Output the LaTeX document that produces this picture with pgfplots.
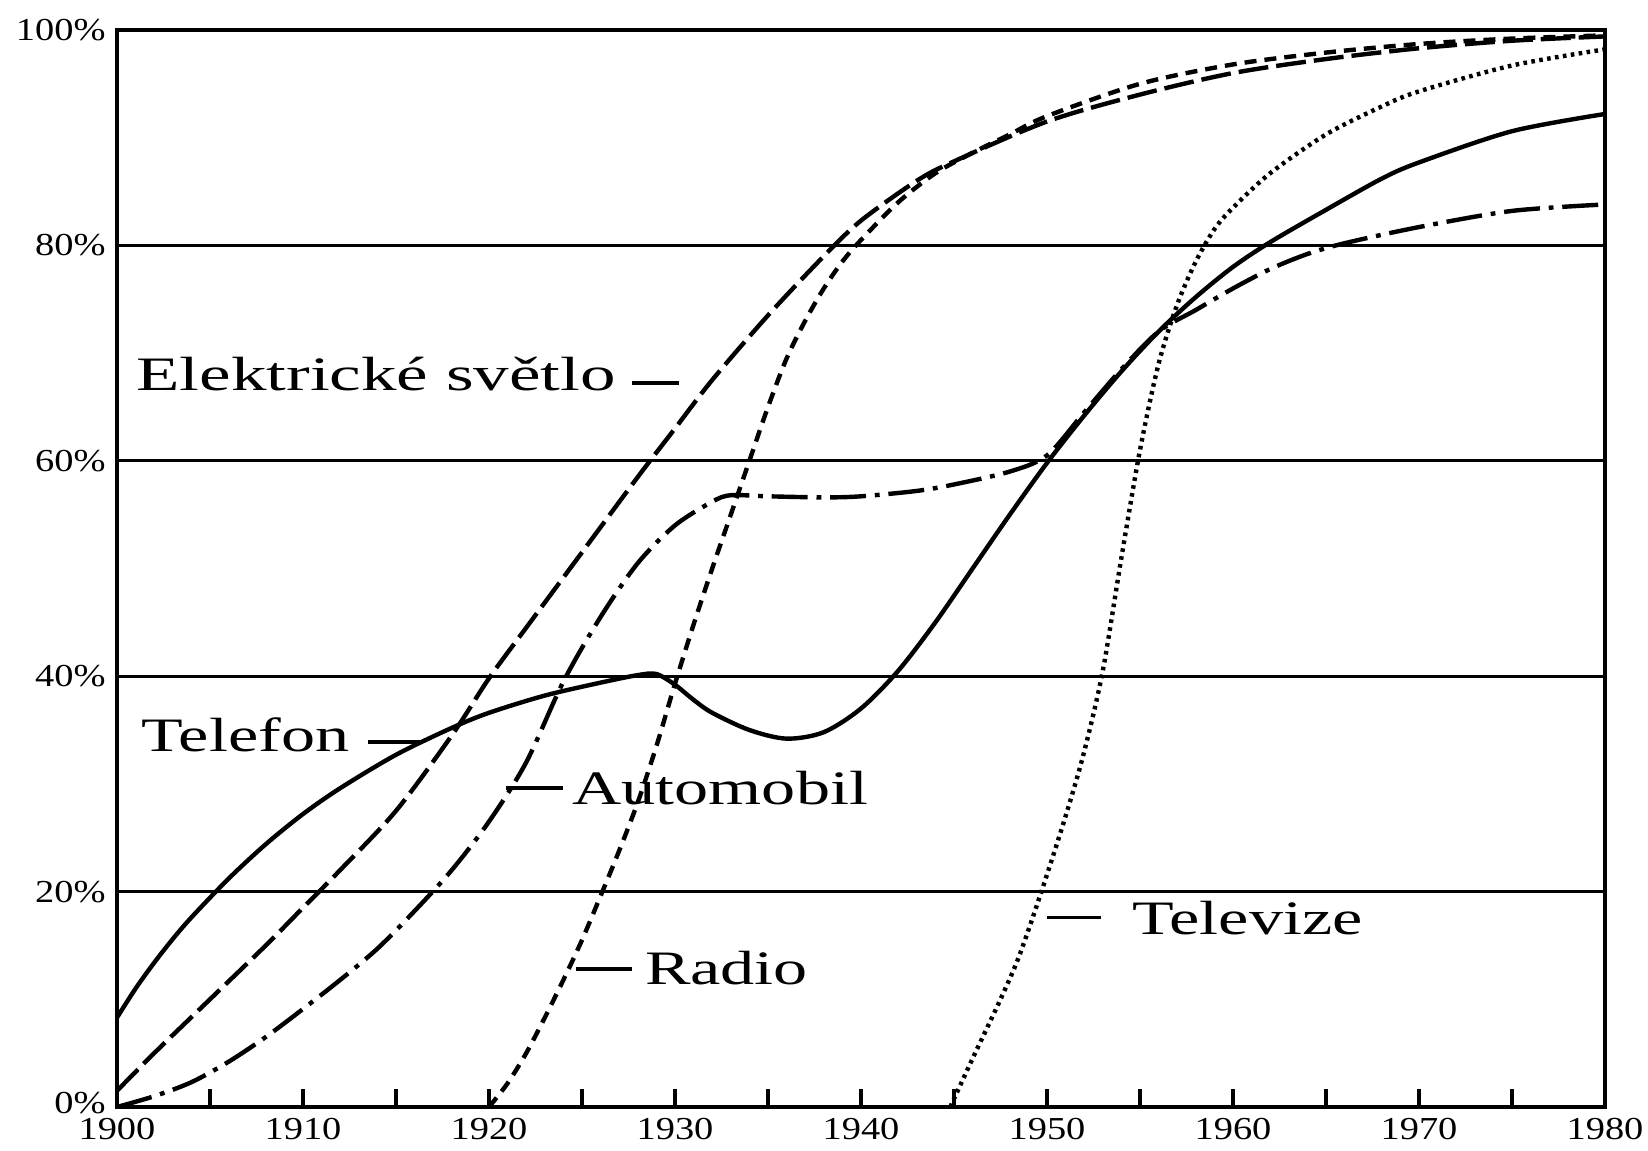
\documentclass[border=0pt]{standalone}
\usepackage{pgfplots}
\pgfplotsset{compat=1.18}
\usepackage{fontspec}
\setmainfont{Liberation Serif}
\newfontfamily\annfont[FakeStretch=1.42]{Liberation Serif}
\newfontfamily\annwide[FakeStretch=1.48]{Liberation Serif}
\newfontfamily\tickfont[FakeStretch=1.2]{Liberation Serif}

\begin{document}
\begin{tikzpicture}
\path[use as bounding box] (-29.25pt,-11pt) rectangle (382.75pt,276.75pt);
\begin{axis}[
  at={(0,0)}, anchor=south west,
  scale only axis, width=372pt, height=269.25pt,
  xmin=1900, xmax=1980, ymin=0, ymax=100,
  xtick={1900,1910,...,1980},
  minor x tick num=1,
  ytick={0,20,40,60,80,100},
  yticklabels={\raisebox{2pt}{0\%},20\%,40\%,60\%,80\%,100\%},
  xtick pos=left, ytick pos=left,
  tick align=inside,
  major tick length=4.5pt, minor tick length=4.5pt,
  ytick style={draw=none},
  xtick style={black, line width=0.8pt},
  ymajorgrids, grid style={black, line width=0.8pt},
  axis line style={line width=1.2pt},
  /pgf/number format/1000 sep={},
  /pgf/number format/assume math mode=true,
  ticklabel style={font=\tickfont\fontsize{8}{9}\selectfont, inner sep=1pt},
  yticklabel style={xshift=-1.67pt},
  xticklabel style={yshift=-1.67pt},
]
% Telefon (solid)
\addplot[black, line width=1.1pt, smooth, tension=0.5] coordinates {
(1900,8.3) (1901,11) (1902,13.4) (1903,15.6) (1904,17.6) (1906,21.2) (1908,24.4)
(1910,27.2) (1912,29.6) (1915,32.7) (1918,35.2) (1920,36.6) (1923,38.2) (1926,39.4)
(1928,40.1) (1929,40.2) (1930,39.2) (1931,37.8) (1932,36.6) (1934,35) (1936,34.2)
(1938,34.8) (1940,37) (1942,40.5) (1944,45) (1946,50) (1948,55) (1950,59.8)
(1952,64.2) (1954,68.3) (1956,72) (1958,75.2) (1960,78) (1962,80.3) (1965,83.3)
(1968,86.2) (1970,87.7) (1975,90.6) (1980,92.2)};
% Elektricke svetlo (long dashes)
\addplot[black, line width=1.1pt, smooth, tension=0.5, dash pattern=on 7.5pt off 2pt] coordinates {
(1900,1.5) (1902,5) (1905,10) (1908,15) (1910,18.5) (1912,22) (1915,27.5)
(1918,34.5) (1920,39.8) (1922,44.5) (1925,51.5) (1928,58.5) (1930,63) (1932,67.5)
(1935,73.5) (1938,79) (1940,82.3) (1943,86) (1945,87.8) (1950,91.5) (1955,94)
(1960,96) (1965,97.3) (1970,98.3) (1975,99) (1980,99.4)};
% Automobil (dash-dot)
\addplot[black, line width=1.1pt, smooth, tension=0.5, dash pattern=on 9pt off 2.2pt on 1.2pt off 2.2pt] coordinates {
(1900,0) (1902,1) (1904,2.3) (1906,4.2) (1908,6.5) (1910,9.1) (1912,11.8)
(1914,14.7) (1916,18.2) (1918,22) (1920,26.5) (1922,32) (1924,39.5) (1926,45.5)
(1928,50.5) (1930,54) (1932,56.2) (1933,56.8) (1935,56.7) (1938,56.6) (1940,56.7)
(1943,57.2) (1945,57.8) (1948,59) (1950,60.5) (1952,64.5) (1954,68.5) (1956,72)
(1958,74) (1960,76) (1962,77.8) (1964,79.2) (1966,80.2) (1970,81.7) (1975,83.2) (1980,83.8)};
% Radio (short dashes)
\addplot[black, line width=1.1pt, smooth, tension=0.5, dash pattern=on 3pt off 2pt] coordinates {
(1920,0) (1921,2.2) (1922,5) (1923,8.3) (1924,11.8) (1925,15.5) (1926,19.6)
(1927,23.8) (1928,28.3) (1929,33.5) (1930,39.3) (1931,44.8) (1932,50) (1933,55)
(1934,60) (1935,65) (1936,69.5) (1937,73) (1938,76) (1939,78.5) (1940,80.5)
(1942,84) (1944,86.7) (1946,88.6) (1948,90.3) (1950,92) (1955,95) (1960,96.8)
(1965,97.9) (1970,98.7) (1975,99.2) (1980,99.5)};
% Televize (dotted)
\addplot[black, line width=1.1pt, smooth, tension=0.5, dash pattern=on 0.9pt off 1.1pt] coordinates {
(1944.8,0) (1946,4.5) (1947.5,10) (1948.5,14) (1949.7,20) (1951,27) (1952,33)
(1953,40.5) (1954,51) (1955,61) (1956,69) (1957,74.5) (1958,78.5) (1959,81.5)
(1960,83.5) (1962,86.7) (1965,90.3) (1968,92.9) (1970,94.3) (1975,96.7) (1980,98.2)};

% annotations
\node[anchor=base west, inner sep=0, font=\annwide\fontsize{12}{14}\selectfont] at (axis cs:1901.0,66.5) {Elektrické světlo};
\draw[line width=0.9pt] (axis cs:1927.7,67.2) -- (axis cs:1930.2,67.2);
\node[anchor=base west, inner sep=0, font=\annfont\fontsize{12}{14}\selectfont] at (axis cs:1901.3,33.0) {Telefon};
\draw[line width=0.9pt] (axis cs:1913.5,33.9) -- (axis cs:1916.3,33.9);
\draw[line width=0.9pt] (axis cs:1920.9,29.6) -- (axis cs:1924.0,29.6);
\node[anchor=base west, inner sep=0, font=\annfont\fontsize{12}{14}\selectfont] at (axis cs:1924.45,28.1) {Automobil};
\draw[line width=0.9pt] (axis cs:1924.7,12.8) -- (axis cs:1927.7,12.8);
\node[anchor=base west, inner sep=0, font=\annfont\fontsize{12}{14}\selectfont] at (axis cs:1928.35,11.35) {Radio};
\draw[line width=0.9pt] (axis cs:1950.0,17.6) -- (axis cs:1952.9,17.6);
\node[anchor=base west, inner sep=0, font=\annfont\fontsize{12}{14}\selectfont] at (axis cs:1954.56,16.0) {Televize};
\end{axis}
\end{tikzpicture}
\end{document}
